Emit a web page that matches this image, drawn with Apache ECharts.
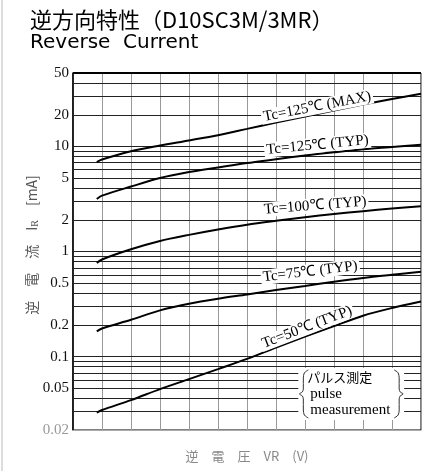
<!DOCTYPE html>
<html>
<head>
<meta charset="utf-8">
<script src="https://cdn.jsdelivr.net/npm/echarts@6/dist/echarts.min.js"></script>
<style>html,body{margin:0;padding:0;background:#fff;}#c{width:440px;height:471px;}</style>
</head>
<body>
<div id="c"></div>
<script>
// ---- data ----
const vr = [0.82, 1, 2, 3, 4, 5, 6, 7, 8, 9, 10, 11, 12];            // reverse voltage (grid divisions)
const ir125max = [7.1, 7.5, 9.0, 10.2, 11.4, 12.8, 14.7, 16.9, 19.3, 22.0, 25.0, 28.3, 31.8];
const ir125typ = [3.16, 3.4, 4.15, 5.0, 5.7, 6.3, 6.95, 7.55, 8.2, 8.8, 9.4, 9.9, 10.4];
const ir100typ = [0.78, 0.84, 1.05, 1.26, 1.44, 1.62, 1.80, 1.96, 2.12, 2.27, 2.42, 2.56, 2.69];
const ir75typ = [0.174, 0.185, 0.224, 0.275, 0.318, 0.355, 0.39, 0.43, 0.47, 0.515, 0.56, 0.60, 0.64];
const ir50typ = [0.0293, 0.031, 0.0385, 0.049, 0.061, 0.076, 0.095, 0.122, 0.155, 0.195, 0.245, 0.29, 0.335];
const curveNames = ['Tc=125℃ (MAX)', 'Tc=125℃ (TYP)', 'Tc=100℃ (TYP)', 'Tc=75℃ (TYP)', 'Tc=50℃ (TYP)'];
const labelAt = [[8.42, 23.9], [8.43, 10.3], [8.35, 2.73], [8.18, 0.643], [8.07, 0.19]];
const labelTilt = [11, 5.5, 4.5, 7, 21];
const gridVals = [0.02, 0.03, 0.04, 0.05, 0.06, 0.07, 0.08, 0.09,
                  0.1, 0.2, 0.3, 0.4, 0.5, 0.6, 0.7, 0.8, 0.9,
                  1, 2, 3, 4, 5, 6, 7, 8, 9,
                  10, 20, 30, 40, 50];
const tickLabels = ['50', '20', '10', '5', '2', '1', '0.5', '0.2', '0.1', '0.05', '0.02'];
const noteLines = ['パルス測定', 'pulse', 'measurement'];
const noteBox = [[7.77, 0.078], [11.42, 0.0249]];

const curves = [ir125max, ir125typ, ir100typ, ir75typ, ir50typ];

const chart = echarts.init(document.getElementById('c'), null, {renderer: 'canvas'});

const serif = 'Liberation Serif';

const series = [{
  type: 'line',
  name: 'grid',
  data: [],
  silent: true,
  z: 1,
  markLine: {
    silent: true,
    z: 1,
    symbol: ['none', 'none'],
    animation: false,
    lineStyle: {color: '#222', width: 1, type: 'solid'},
    label: {position: 'start', formatter: '{b}', fontFamily: serif, fontSize: 15, color: '#111', distance: 4},
    data: gridVals.map(v => ({
      yAxis: v,
      name: String(v),
      label: {show: tickLabels.indexOf(String(v)) >= 0, color: v === 0.02 ? '#999' : '#111'},
      lineStyle: v === 50 ? {width: 2, color: '#000'} : (v === 0.02 ? {color: '#aaa'} : {})
    }))
  }
}];

curves.forEach((arr, k) => {
  series.push({
    type: 'line',
    name: curveNames[k],
    data: vr.map((x, i) => [x, arr[i]]),
    smooth: 0.3,
    showSymbol: false,
    symbol: 'none',
    z: 3,
    lineStyle: {color: '#000', width: 2},
    itemStyle: {color: '#000'},
    markPoint: {
      z: 10,
      silent: true,
      animation: false,
      symbol: 'circle',
      symbolSize: 1,
      itemStyle: {color: 'rgba(0,0,0,0)'},
      label: {
        show: true,
        position: 'inside',
        formatter: curveNames[k],
        rotate: labelTilt[k],
        fontFamily: serif,
        fontSize: 15,
        color: '#000',
        backgroundColor: '#fff',
        padding: [0, 2, 0, 2]
      },
      data: [{coord: labelAt[k]}]
    }
  });
});

chart.setOption({
  animation: false,
  backgroundColor: '#fff',
  title: {
    text: '逆方向特性（D10SC3M/3MR）',
    subtext: 'Reverse  Current',
    left: 25, top: 4, itemGap: 2,
    textStyle: {fontSize: 22, fontFamily: 'Noto Sans CJK JP', fontWeight: 'normal', color: '#000'},
    subtextStyle: {fontSize: 20, fontFamily: 'DejaVu Sans', color: '#000'}
  },
  grid: {left: 73, right: 19, top: 73, bottom: 41, show: true, borderColor: '#000', borderWidth: 1, backgroundColor: 'transparent'},
  xAxis: {
    type: 'value', min: 0, max: 12, interval: 1,
    axisLabel: {show: false}, axisTick: {show: false},
    axisLine: {lineStyle: {color: '#aaa'}},
    splitLine: {show: true, lineStyle: {color: '#999', width: 1}},
    name: '逆　電　圧　VR　(V)', nameLocation: 'middle', nameGap: 20,
    nameTextStyle: {fontSize: 13, color: '#888', fontFamily: 'Noto Sans CJK JP'}
  },
  yAxis: {
    type: 'log', logBase: 10, min: 0.02, max: 50,
    axisLabel: {show: false}, axisTick: {show: false},
    axisLine: {show: true, lineStyle: {color: '#000', width: 1.5}},
    splitLine: {show: false},
    minorSplitLine: {show: false},
    name: '逆　電　流　I{sub|R}　[mA]', nameLocation: 'middle', nameRotate: 90, nameGap: 33,
    nameTextStyle: {fontSize: 14, color: '#555', fontFamily: 'Noto Sans CJK JP', padding: [0, 0, 0, 13],
      rich: {sub: {fontSize: 10, color: '#555', fontFamily: serif, padding: [6, 0, 0, 0]}}}
  },
  series: series
});

// annotation box (pulse measurement) placed in data coordinates
const p1 = chart.convertToPixel({gridIndex: 0}, noteBox[0]);
const p2 = chart.convertToPixel({gridIndex: 0}, noteBox[1]);
const bw = p2[0] - p1[0], bh = p2[1] - p1[1];
function brace(x, y, h, s) {
  const m = h / 2;
  return [[x + 5 * s, y], [x + 1 * s, y + 3], [x, y + 8], [x, y + m - 5], [x - 1 * s, y + m - 2], [x - 4 * s, y + m],
          [x - 1 * s, y + m + 2], [x, y + m + 5], [x, y + h - 8], [x + 1 * s, y + h - 3], [x + 5 * s, y + h]];
}
chart.setOption({
  graphic: [
    {type: 'line', shape: {x1: 2, y1: 0, x2: 2, y2: 471}, style: {stroke: '#bbb', lineWidth: 1}, silent: true},
    {type: 'rect', shape: {x: p1[0], y: p1[1], width: bw, height: bh}, style: {fill: '#fff'}, z: 20, silent: true},
    {type: 'polyline', shape: {points: brace(p1[0] + 5, p1[1] + 2, bh - 4, 1), smooth: 0.3}, style: {fill: null, stroke: '#333', lineWidth: 1}, z: 21, silent: true},
    {type: 'polyline', shape: {points: brace(p2[0] - 5, p1[1] + 2, bh - 4, -1), smooth: 0.3}, style: {fill: null, stroke: '#333', lineWidth: 1}, z: 21, silent: true},
    {type: 'text', x: p1[0] + 9, y: p1[1] + 3, z: 21, silent: true,
      style: {text: noteLines[0], font: '13px "Noto Sans CJK JP"', fill: '#000'}},
    {type: 'text', x: p1[0] + 12, y: p1[1] + 19, z: 21, silent: true,
      style: {text: noteLines[1], font: '15px "Liberation Serif"', fill: '#000'}},
    {type: 'text', x: p1[0] + 12, y: p1[1] + 35, z: 21, silent: true,
      style: {text: noteLines[2], font: '15px "Liberation Serif"', fill: '#000'}}
  ]
});
</script>
</body>
</html>
